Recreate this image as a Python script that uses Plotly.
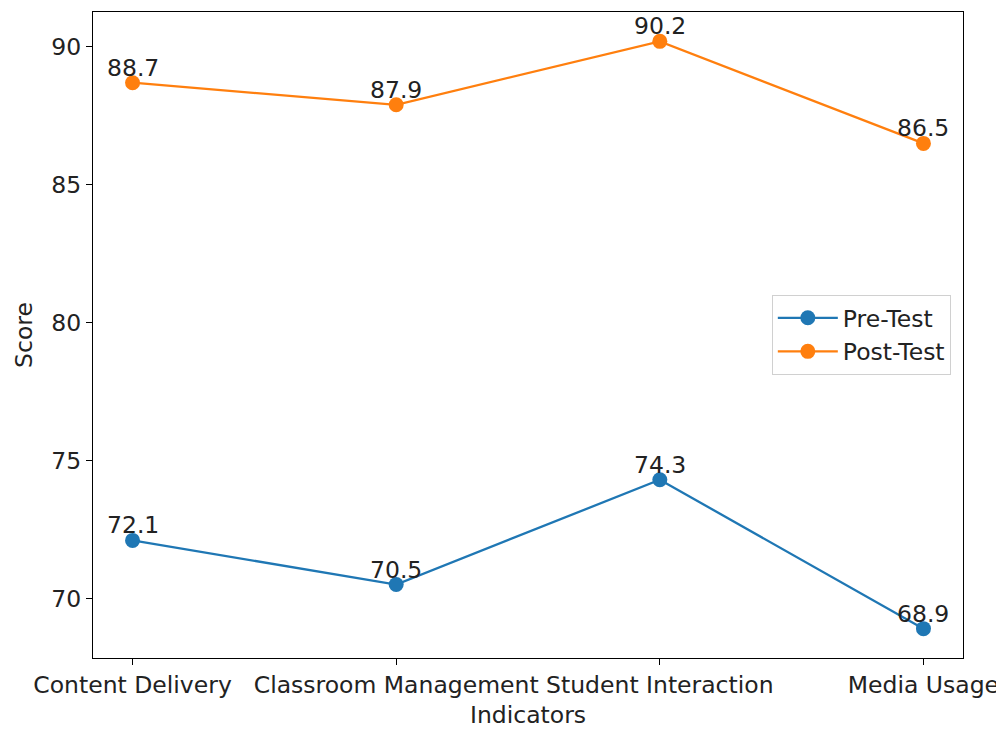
import plotly.graph_objects as go

categories = ["Content Delivery", "Classroom Management", "Student Interaction", "Media Usage"]
pre_test = [72.1, 70.5, 74.3, 68.9]
post_test = [88.7, 87.9, 90.2, 86.5]
y_ticks = [70, 75, 80, 85, 90]

x_idx = list(range(len(categories)))
FONT = "DejaVu Sans"
FS = 23.5

fig = go.Figure()
series = [("Pre-Test", pre_test, "#1f77b4"), ("Post-Test", post_test, "#ff7f0e")]
for name, vals, col in series:
    fig.add_trace(go.Scatter(
        x=x_idx, y=vals, mode="lines+markers", name=name,
        line=dict(color=col, width=2.3),
        marker=dict(color=col, size=15),
    ))
    for xi, v in zip(x_idx, vals):
        fig.add_annotation(x=xi, y=v, text=f"{v}", showarrow=False,
                           yanchor="bottom", yshift=-1,
                           font=dict(family=FONT, size=FS, color="#222"))

fig.update_layout(
    width=996, height=723,
    margin=dict(l=85, r=41, t=4, b=73),
    paper_bgcolor="white", plot_bgcolor="white",
    font=dict(family=FONT, size=FS, color="#222"),
    showlegend=True,
    legend=dict(x=0.986, y=0.5, xanchor="right", yanchor="middle",
                bordercolor="#d0d0d0", borderwidth=1, bgcolor="white",
                itemwidth=60,
                font=dict(family=FONT, size=FS)),
)
fig.update_xaxes(
    range=[-0.15, 3.15], tickmode="array", tickvals=x_idx, ticktext=categories,
    showgrid=False, zeroline=False, showline=True, mirror=True,
    linecolor="black", linewidth=1.2, ticks="outside", ticklen=6, tickcolor="black",
    title=dict(text="Indicators", font=dict(family=FONT, size=FS), standoff=8),
)
fig.update_yaxes(
    range=[67.835, 91.265], tickmode="array", tickvals=y_ticks,
    showgrid=False, zeroline=False, showline=True, mirror=True,
    linecolor="black", linewidth=1.2, ticks="outside", ticklen=6, tickcolor="black",
    title=dict(text="Score", font=dict(family=FONT, size=FS), standoff=12),
)
fig.write_html("out.html")
